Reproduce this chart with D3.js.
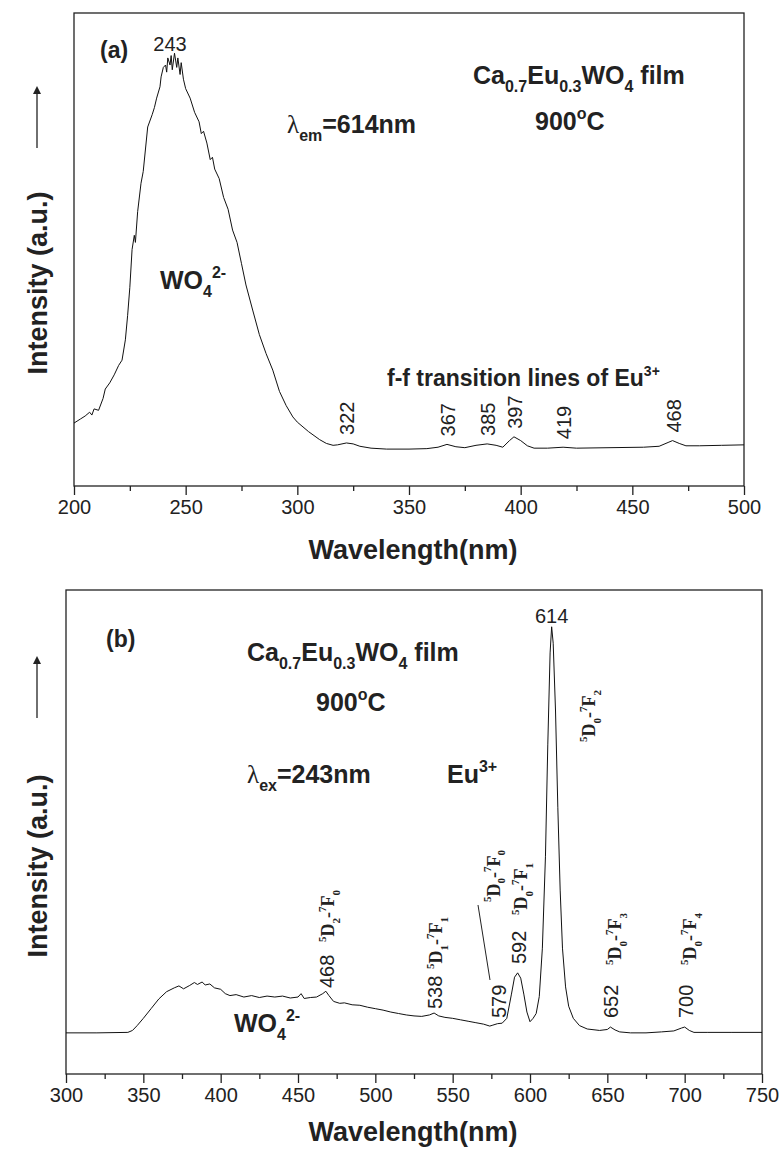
<!DOCTYPE html>
<html>
<head>
<meta charset="utf-8">
<script src="https://cdn.jsdelivr.net/npm/d3@7"></script>
<style>
  body { margin: 0; background: #fff; }
  svg { display: block; font-family: "Liberation Sans", Arial, sans-serif; }
</style>
</head>
<body>
<svg id="chart" width="781" height="1151"></svg>
<script>
// excitation spectrum (a), lambda_em = 614 nm
var excWave = [200,203,205,207,208,209,211,213,214,216,218,220,221.5,223,224,225,226,227,227.5,228.5,230,231,233,235,236,237,238.5,239,240,241,241.5,242,243,243.5,244,245,246,246.5,247.5,248,249,250,252,254,256,257,258,259.5,261,262,263,265,267,269,271,273,275,277,280,283,286,289,292,295,298,300,305,310,313,316,318,322,325,328,333,340,350,358,363,367,371,375,380,385,389,392,395,397,400,403,406,412,419,425,440,455,462,466,468,471,474,480,490,500];
var excInt = [13.3,14.2,14.8,15.6,15.0,16.3,16.0,18.5,20.5,21.8,23.5,25.5,26.6,30.9,36,42,50,53,51.5,58,64,66.5,75.9,78.5,80,82,84.4,86.5,88.5,89,87.5,90.5,89,91,88,91.5,88.5,90.5,87,89.5,86,84,82,79,77,74.5,75,72.5,69,69.5,67,65,61,58.5,54.1,51.5,47,42.5,37.2,32,28,24.5,20,17,14.6,13.5,11.5,9.8,9.0,8.6,8.7,9.1,8.9,8.4,8.0,7.8,7.8,7.9,8.2,8.8,8.3,8.1,8.6,8.9,8.6,8.2,9.6,10.4,9.6,8.5,8.0,8.0,8.2,8.0,8.1,8.2,8.4,9.2,9.6,9.0,8.5,8.5,8.6,8.7];
var excPeaks = [322, 367, 385, 397, 419, 468];

// emission spectrum (b), lambda_ex = 243 nm
var emWave = [300,320,340,343,346,350,355,360,365,370,373,376,380,383,385,388,390,393,396,400,403,406,410,415,420,425,430,435,440,445,450,452,454,458,462,466,468,470,473,477,480,485,490,495,500,505,510,515,520,525,530,535,538,541,545,550,555,560,565,570,574,576,579,582,585,588,590,592,594,596,598,600,602,604,606,608,610,611.5,613,614,615,616.5,618,619.5,621,623,625,628,632,637,645,650,652,655,658,665,675,685,693,698,700,703,706,715,730,750];
var emInt = [8.5,8.5,8.6,9.0,10.0,11.5,13.5,15.5,17.0,17.8,18.2,17.6,18.3,18.9,18.5,19.0,18.4,18.6,17.8,17.5,16.6,16.2,16.4,15.9,16.2,15.8,16.1,15.9,16.1,15.7,15.9,16.6,15.6,15.8,15.9,16.6,17.1,16.2,15.0,14.6,14.7,14.3,14.2,13.8,13.5,13.2,12.8,12.5,12.2,12.0,11.9,12.2,12.6,12.0,11.7,11.5,11.2,10.9,10.6,10.3,9.9,10.1,10.4,10.5,11.5,16.5,20.0,20.9,19.8,16.5,12.8,10.8,11.5,12.5,16,26,45,68,87,92.4,89,75,55,38,26,18,14,11.5,10,9.3,9.0,9.2,9.7,9.1,8.7,8.5,8.5,8.7,8.9,9.5,9.7,9.0,8.6,8.6,8.6,8.6];
var emPeaks = [468, 538, 579, 592, 652, 700];

var svg = d3.select("#chart");
svg.append("rect").attr("width", 781).attr("height", 1151).attr("fill", "#fff");

// text with sub/superscripts: parts = [[text, "sub"|"sup"|null, font]]
function rich(g, x, y, parts, size, weight, family) {
    var t = g.append("text").attr("x", x).attr("y", y)
        .style("font-size", size + "px").style("font-weight", weight || "bold");
    if (family) t.style("font-family", family);
    var shift = 0;
    parts.forEach(function (p) {
        var target = p[1] === "sub" ? size * 0.33 : p[1] === "sup" ? -size * 0.45 : 0;
        var ts = t.append("tspan").attr("dy", target - shift).text(p[0]);
        if (p[1]) ts.style("font-size", Math.round(size * 0.62) + "px");
        if (p[2]) ts.style("font-family", p[2]).style("font-weight", p[3] || null);
        shift = target;
    });
    return t;
}

function transition(g, x, y, lo, f) {
    // rotated Times bold label like 5D0-7F2
    var gg = g.append("g").attr("transform", "translate(" + x + "," + y + ") rotate(-90)");
    rich(gg, 0, 0, [["5", "sup"], ["D", null], [lo, "sub"], ["-", null], ["7", "sup"], ["F", null], [f, "sub"]],
        18, "bold", "'Liberation Serif', 'Times New Roman', serif");
}

function rotNum(g, x, y, s) {
    g.append("text").attr("transform", "translate(" + x + "," + y + ") rotate(-90)")
        .style("font-size", "20px").text(s);
}

function panel(opt) {
    var x = d3.scaleLinear().domain(opt.xDomain).range([opt.left, opt.right]);
    var y = d3.scaleLinear().domain([0, 100]).range([opt.bottom, opt.top]);
    var g = svg.append("g");

    g.append("rect").attr("x", opt.left).attr("y", opt.top)
        .attr("width", opt.right - opt.left).attr("height", opt.bottom - opt.top)
        .attr("fill", "none").attr("stroke", "#222").attr("stroke-width", 1.3);

    var minor = d3.range(opt.xDomain[0], opt.xDomain[1] + 1, 25).filter(function (d) { return d % 50 !== 0; });
    g.append("g").attr("transform", "translate(0," + opt.bottom + ")")
        .call(d3.axisBottom(x).tickValues(minor).tickSize(5).tickFormat(""))
        .call(function (a) { a.select(".domain").remove(); });
    var ax = g.append("g").attr("transform", "translate(0," + opt.bottom + ")")
        .call(d3.axisBottom(x).tickValues(d3.range(opt.xDomain[0], opt.xDomain[1] + 1, 50)).tickSize(9).tickPadding(5));
    ax.select(".domain").remove();
    g.selectAll(".tick line").attr("stroke", "#222").attr("stroke-width", 1.3);
    ax.selectAll(".tick text").style("font-size", "20px").style("font-family", "'Liberation Sans', Arial, sans-serif").attr("fill", "#222");

    g.append("path").datum(d3.zip(opt.wave, opt.inten))
        .attr("fill", "none").attr("stroke", "#111").attr("stroke-width", 1)
        .attr("d", d3.line().x(function (d) { return x(d[0]); }).y(function (d) { return y(d[1]); }));

    g.append("text").attr("x", 413).attr("y", opt.bottom + opt.titleGap)
        .attr("text-anchor", "middle").style("font-size", "27px").style("font-weight", "bold")
        .attr("fill", "#222").text("Wavelength(nm)");

    var ly = opt.labelY;
    g.append("text").attr("transform", "translate(47," + ly + ") rotate(-90)")
        .attr("text-anchor", "middle").style("font-size", "27px").style("font-weight", "bold")
        .attr("fill", "#222").text("Intensity (a.u.)");
    g.append("line").attr("x1", 37).attr("x2", 37).attr("y1", opt.arrow[0]).attr("y2", opt.arrow[1] + 6)
        .attr("stroke", "#222").attr("stroke-width", 1.3);
    g.append("path").attr("d", "M33," + (opt.arrow[1] + 8) + " L37," + opt.arrow[1] + " L41," + (opt.arrow[1] + 8) + " Z")
        .attr("fill", "#222");

    return { g: g, x: x, y: y };
}

// ---- panel (a)
var a = panel({ xDomain: [200, 500], left: 74, right: 744, top: 13, bottom: 486, titleGap: 73,
    wave: excWave, inten: excInt, labelY: 283, arrow: [148, 86] });
var ga = a.g.append("g").attr("fill", "#222");
ga.append("text").attr("x", 100).attr("y", 58).style("font-size", "23px").style("font-weight", "bold").text("(a)");
ga.append("text").attr("x", a.x(243)).attr("y", 51).attr("text-anchor", "middle").style("font-size", "20px").text("243");
rich(ga, 473, 84, [["Ca", null], ["0.7", "sub"], ["Eu", null], ["0.3", "sub"], ["WO", null], ["4", "sub"], [" film", null]], 25);
rich(ga, 535, 130, [["900", null], ["o", "sup"], ["C", null]], 25);
rich(ga, 287, 133, [["λ", null, "'Liberation Serif', serif", "normal"], ["em", "sub"], ["=614nm", null]], 25);
rich(ga, 160, 289, [["WO", null], ["4", "sub"], ["2-", "sup"]], 25);
rich(ga, 387, 386, [["f-f transition lines of Eu", null], ["3+", "sup"]], 23);
excPeaks.forEach(function (p) {
    var i = excWave.indexOf(p);
    var v = i >= 0 ? excInt[i] : 9;
    rotNum(ga, a.x(p) + 8, a.y(v) - 8, p);
});

// ---- panel (b)
var b = panel({ xDomain: [300, 750], left: 66, right: 762, top: 590, bottom: 1074, titleGap: 67,
    wave: emWave, inten: emInt, labelY: 866, arrow: [718, 656] });
var gb = b.g.append("g").attr("fill", "#222");
gb.append("text").attr("x", 106).attr("y", 647).style("font-size", "23px").style("font-weight", "bold").text("(b)");
gb.append("text").attr("x", b.x(614)).attr("y", 623).attr("text-anchor", "middle").style("font-size", "20px").text("614");
rich(gb, 247, 661, [["Ca", null], ["0.7", "sub"], ["Eu", null], ["0.3", "sub"], ["WO", null], ["4", "sub"], [" film", null]], 25);
rich(gb, 316, 711, [["900", null], ["o", "sup"], ["C", null]], 25);
rich(gb, 247, 783, [["λ", null, "'Liberation Serif', serif", "normal"], ["ex", "sub"], ["=243nm", null]], 25);
rich(gb, 447, 783, [["Eu", null], ["3+", "sup"]], 25);
rich(gb, 234, 1032, [["WO", null], ["4", "sub"], ["2-", "sup"]], 25);
var emLabelY = { 468: 988, 538: 1009, 579: 1018, 592: 964, 652: 1018, 700: 1018 };
emPeaks.forEach(function (p) {
    rotNum(gb, b.x(p) + 8, emLabelY[p], p);
});
transition(gb, b.x(468) + 8, 942, "2", "0");
transition(gb, b.x(538) + 8, 969, "1", "1");
transition(gb, b.x(579) + 2, 902, "0", "0");
transition(gb, b.x(592) + 9, 915, "0", "1");
transition(gb, b.x(614) + 43, 742, "0", "2");
transition(gb, b.x(652) + 11, 965, "0", "3");
transition(gb, b.x(700) + 11, 965, "0", "4");
gb.append("line").attr("x1", 478).attr("y1", 905).attr("x2", 490).attr("y2", 980)
    .attr("stroke", "#222").attr("stroke-width", 1);
</script>
</body>
</html>
